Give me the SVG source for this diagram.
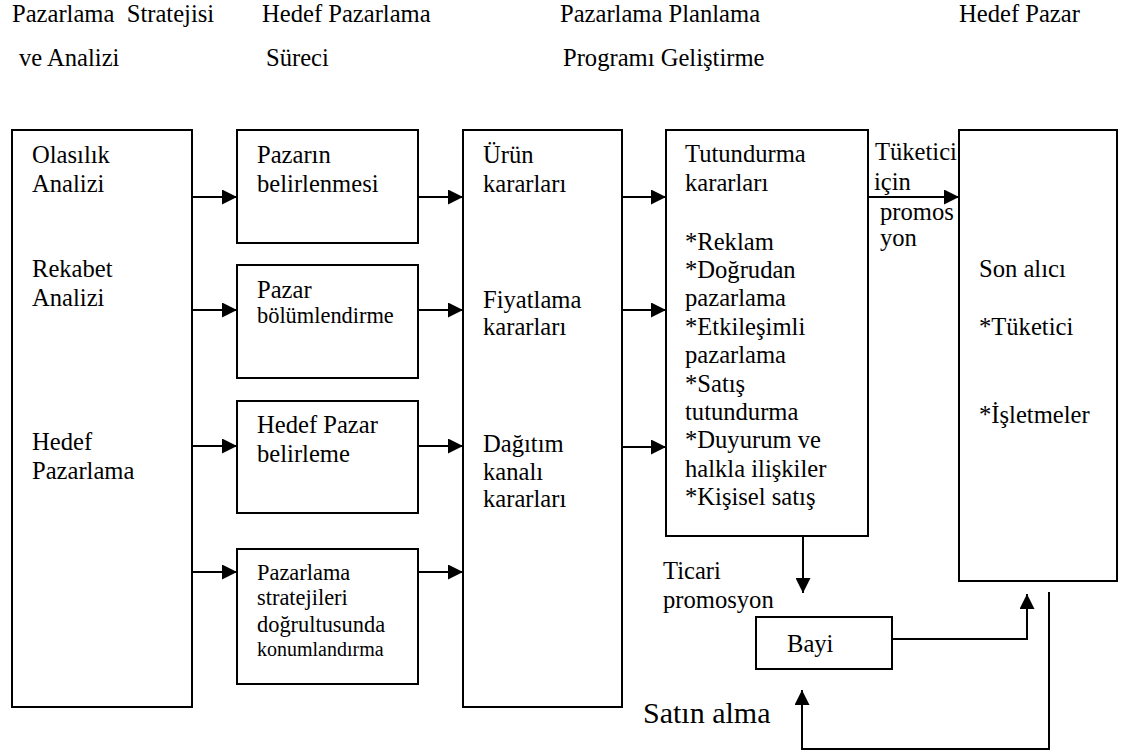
<svg xmlns="http://www.w3.org/2000/svg" width="1123" height="752" viewBox="0 0 1123 752">
  <style>
    text { font-family: "Liberation Serif", "Times New Roman", serif; font-size: 24.6px; fill: #000; }
    .md { font-size: 22.4px; }
    .sm { font-size: 20px; }
    .lg { font-size: 30px; }
    .box { fill: #fff; stroke: #000; stroke-width: 2; }
    .wire { fill: none; stroke: #000; stroke-width: 2; }
  </style>
  <defs>
    <marker id="arrow" markerUnits="userSpaceOnUse" markerWidth="15" markerHeight="15" refX="15" refY="7.5" orient="auto">
      <path d="M0,0 L15,7.5 L0,15 Z" fill="#000"/>
    </marker>
  </defs>

  <rect width="1123" height="752" fill="#fff"/>

  <!-- column headings -->
  <g id="headings">
    <text x="12" y="22" xml:space="preserve">Pazarlama  Stratejisi</text>
    <text x="19" y="66">ve Analizi</text>
    <text x="262" y="22">Hedef Pazarlama</text>
    <text x="266" y="66">Süreci</text>
    <text x="560" y="22">Pazarlama Planlama</text>
    <text x="563" y="66">Programı Geliştirme</text>
    <text x="959" y="22">Hedef Pazar</text>
  </g>

  <!-- connectors -->
  <g id="connectors" class="wire">
    <line x1="192" y1="197" x2="237" y2="197" marker-end="url(#arrow)"/>
    <line x1="192" y1="310" x2="237" y2="310" marker-end="url(#arrow)"/>
    <line x1="192" y1="446" x2="237" y2="446" marker-end="url(#arrow)"/>
    <line x1="192" y1="572" x2="237" y2="572" marker-end="url(#arrow)"/>

    <line x1="418" y1="197" x2="463" y2="197" marker-end="url(#arrow)"/>
    <line x1="418" y1="310" x2="463" y2="310" marker-end="url(#arrow)"/>
    <line x1="418" y1="446" x2="463" y2="446" marker-end="url(#arrow)"/>
    <line x1="418" y1="572" x2="463" y2="572" marker-end="url(#arrow)"/>

    <line x1="622" y1="197" x2="666" y2="197" marker-end="url(#arrow)"/>
    <line x1="622" y1="310" x2="666" y2="310" marker-end="url(#arrow)"/>
    <line x1="622" y1="447" x2="666" y2="447" marker-end="url(#arrow)"/>

    <line x1="868" y1="197" x2="959" y2="197" marker-end="url(#arrow)"/>

    <line x1="803" y1="527" x2="803" y2="593" marker-end="url(#arrow)"/>
    <path d="M892,639 H1027 V594" marker-end="url(#arrow)"/>
    <path d="M1049,592 V749 H802 V690" marker-end="url(#arrow)"/>
  </g>

  <!-- strategy and analysis -->
  <g id="node-analiz">
    <rect class="box" x="12" y="130" width="180" height="577"/>
    <text x="32" y="163">Olasılık</text>
    <text x="32" y="192">Analizi</text>
    <text x="32" y="277">Rekabet</text>
    <text x="32" y="306">Analizi</text>
    <text x="32" y="450">Hedef</text>
    <text x="32" y="479">Pazarlama</text>
  </g>

  <!-- target marketing process -->
  <g id="node-pazarin-belirlenmesi">
    <rect class="box" x="237" y="130" width="181" height="113"/>
    <text x="257" y="163">Pazarın</text>
    <text x="257" y="192">belirlenmesi</text>
  </g>
  <g id="node-pazar-bolumlendirme">
    <rect class="box" x="237" y="265" width="181" height="113"/>
    <text x="257" y="298">Pazar</text>
    <text class="md" x="257" y="323">bölümlendirme</text>
  </g>
  <g id="node-hedef-pazar-belirleme">
    <rect class="box" x="237" y="401" width="181" height="112"/>
    <text x="257" y="433">Hedef Pazar</text>
    <text x="257" y="462">belirleme</text>
  </g>
  <g id="node-konumlandirma">
    <rect class="box" x="237" y="549" width="181" height="135"/>
    <text class="md" x="257" y="580">Pazarlama</text>
    <text class="md" x="257" y="605">stratejileri</text>
    <text class="md" x="257" y="632">doğrultusunda</text>
    <text class="sm" x="257" y="656">konumlandırma</text>
  </g>

  <!-- marketing program decisions -->
  <g id="node-kararlar">
    <rect class="box" x="463" y="130" width="159" height="577"/>
    <text x="483" y="163">Ürün</text>
    <text x="483" y="192">kararları</text>
    <text x="483" y="308">Fiyatlama</text>
    <text x="483" y="335">kararları</text>
    <text x="483" y="452">Dağıtım</text>
    <text x="483" y="480">kanalı</text>
    <text x="483" y="507">kararları</text>
  </g>

  <g id="node-tutundurma">
    <rect class="box" x="666" y="130" width="202" height="406"/>
    <text x="685" y="162">Tutundurma</text>
    <text x="685" y="191">kararları</text>
    <text x="685" y="250">*Reklam</text>
    <text x="685" y="278">*Doğrudan</text>
    <text x="685" y="306">pazarlama</text>
    <text x="685" y="335">*Etkileşimli</text>
    <text x="685" y="363">pazarlama</text>
    <text x="685" y="392">*Satış</text>
    <text x="685" y="420">tutundurma</text>
    <text x="685" y="448">*Duyurum ve</text>
    <text x="685" y="477">halkla ilişkiler</text>
    <text x="685" y="505">*Kişisel satış</text>
  </g>

  <!-- target market -->
  <g id="node-son-alici">
    <rect class="box" x="959" y="130" width="158" height="451"/>
    <text x="979" y="277">Son alıcı</text>
    <text x="979" y="335">*Tüketici</text>
    <text x="979" y="423">*İşletmeler</text>
  </g>

  <g id="node-bayi">
    <rect class="box" x="756" y="617" width="136" height="52"/>
    <text x="787" y="652">Bayi</text>
  </g>

  <!-- connector labels -->
  <g id="labels">
    <text x="875" y="160">Tüketici</text>
    <text x="874" y="190">için</text>
    <text x="880" y="220">promos</text>
    <text x="880" y="246">yon</text>
    <text x="663" y="579">Ticari</text>
    <text x="663" y="608">promosyon</text>
    <text class="lg" x="643" y="723">Satın alma</text>
  </g>
</svg>
